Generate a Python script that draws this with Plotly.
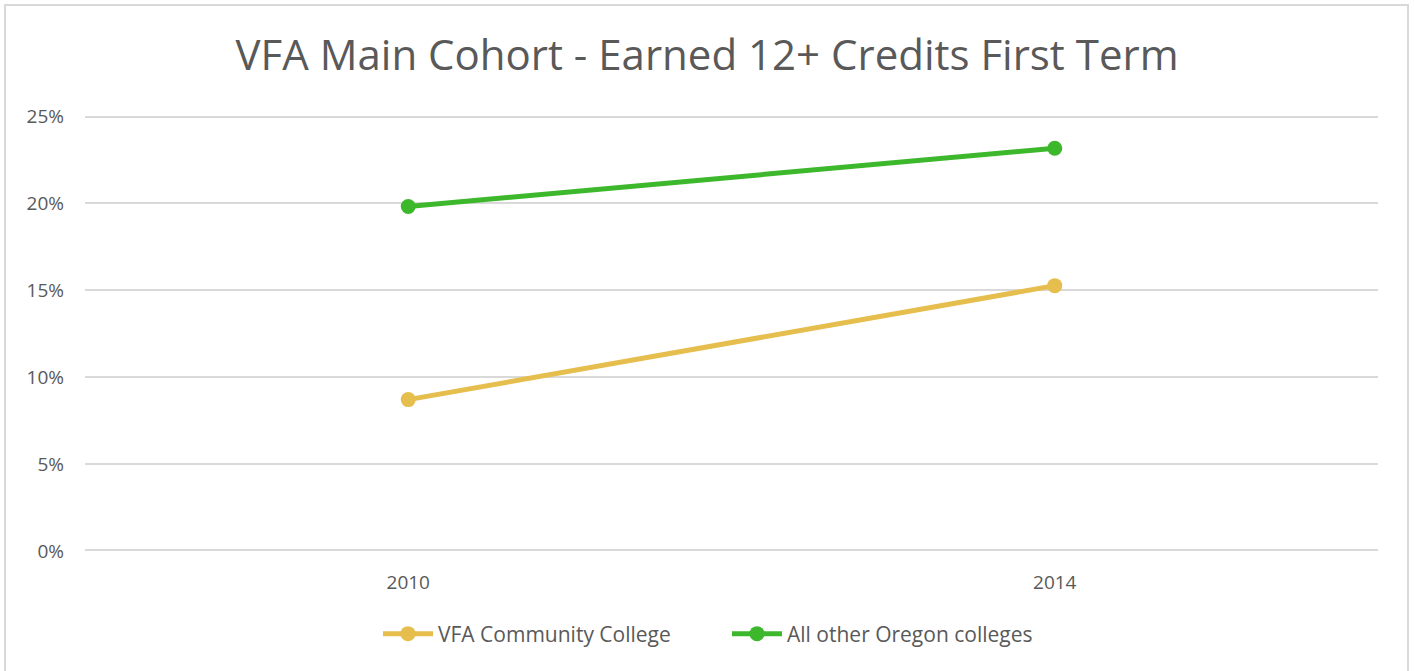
import plotly.graph_objects as go

years = ["2010", "2014"]
vfa = [8.7, 15.25]
other = [19.8, 23.15]
series_names = ["VFA Community College", "All other Oregon colleges"]
colors = ["#E6BE4E", "#3DB82D"]
yticks = [0, 5, 10, 15, 20, 25]
ytick_labels = [f"{v}%" for v in yticks]

W, H = 1414, 671
L, R, T, B = 85, 36, 116, 120
pw, ph = W - L - R, H - T - B

def px_x(p):
    return (p - L) / pw

def px_y(p):
    return (H - B - p) / ph

fig = go.Figure()
for name, vals, c in zip(series_names, [vfa, other], colors):
    fig.add_trace(go.Scatter(
        x=years, y=vals, name=name, mode="lines+markers",
        line=dict(color=c, width=5), marker=dict(color=c, size=15),
    ))

fig.update_layout(
    width=W, height=H,
    margin=dict(l=L, r=R, t=T, b=B),
    paper_bgcolor="white", plot_bgcolor="white",
    font=dict(family="Open Sans, Noto Sans, sans-serif", color="#595959"),
    title=dict(text="VFA Main Cohort - Earned 12+ Credits First Term",
               x=0.5, xanchor="center", y=1 - 55 / H, yanchor="middle",
               font=dict(size=42, color="#595959")),
    xaxis=dict(type="category", range=[-0.5, 1.5], showgrid=False,
               showline=False, zeroline=False, ticks="",
               tickfont=dict(size=19, color="#595959"), ticklabelstandoff=18),
    yaxis=dict(range=[0, 25], tickmode="array", tickvals=yticks,
               ticktext=ytick_labels,
               showgrid=True, gridcolor="#D9D9D9", gridwidth=2,
               zeroline=False, showline=False, ticks="",
               tickfont=dict(size=19, color="#595959"), ticklabelstandoff=20),
    legend=dict(orientation="h", x=px_x(378), xanchor="left",
                y=px_y(634), yanchor="middle",
                font=dict(size=21, color="#595959"),
                itemwidth=50, entrywidth=284, entrywidthmode="pixels",
                tracegroupgap=0),
    showlegend=True,
)

# edge gridlines (plotly hides gridlines on the plot-area border; shapes are clipped by half)
for v in (yticks[0], yticks[-1]):
    fig.add_shape(type="line", xref="paper", yref="y", x0=0, x1=1, y0=v, y1=v,
                  line=dict(color="#D9D9D9", width=4), layer="below")

fig.add_shape(type="rect", xref="paper", yref="paper",
              x0=px_x(5), x1=px_x(1408), y0=px_y(690), y1=px_y(5),
              line=dict(color="#D9D9D9", width=2), fillcolor="rgba(0,0,0,0)",
              layer="below")

fig.write_html("out.html", post_script="document.body.style.margin='0';",
               config={"displayModeBar": False})
